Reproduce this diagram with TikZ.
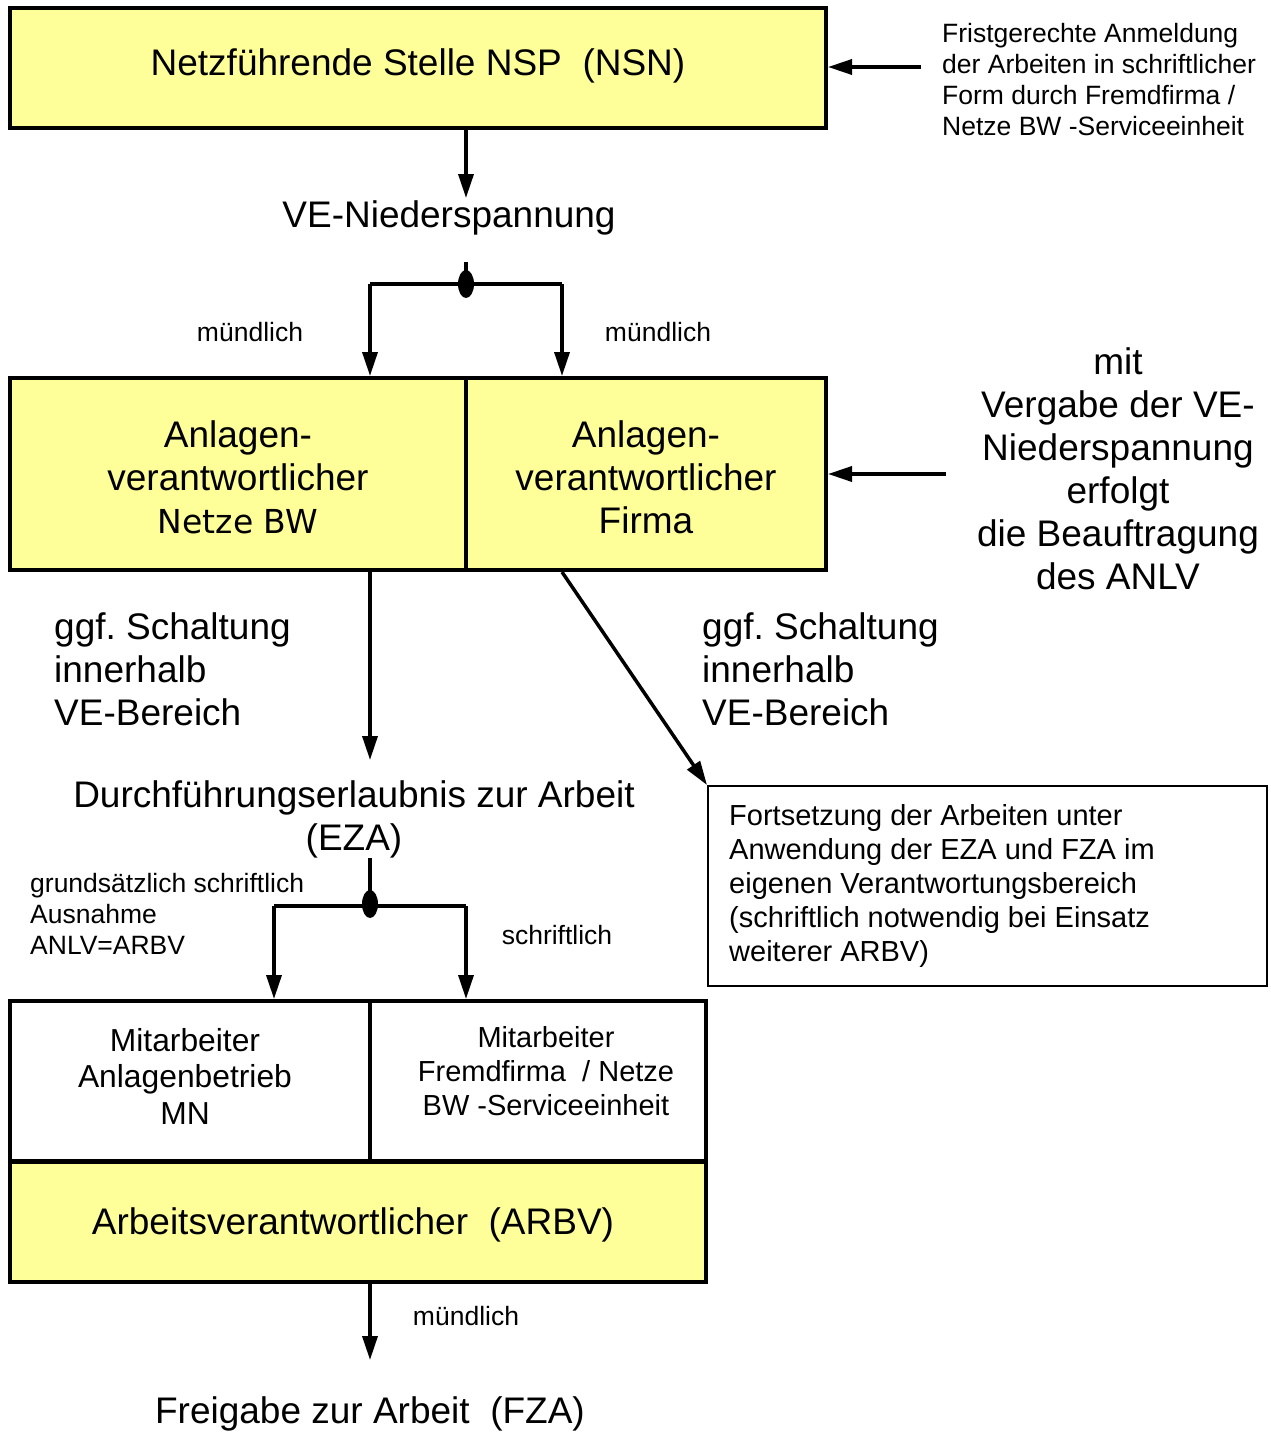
\documentclass[tikz,border=0pt]{standalone}
\usepackage{fontspec}
\setmainfont{Liberation Sans}
\newfontfamily\dejavu{DejaVu Sans}
\usetikzlibrary{arrows.meta}
\definecolor{yel}{HTML}{FFFF99}
\frenchspacing
\begin{document}
\begin{tikzpicture}[x=1pt,y=-1pt,
 ybox/.style={draw, fill=yel, line width=4pt, inner sep=0pt},
 wbox/.style={draw, fill=white, line width=4pt, inner sep=0pt},
 fbox/.style={draw, fill=white, line width=2pt, inner sep=0pt},
 conn/.style={line width=3.5pt, -{Triangle[length=24pt,width=15pt]}},
 wire/.style={line width=3.5pt},
 big/.style={font=\frenchspacing\fontsize{37}{43}\selectfont, inner sep=0pt},
 small/.style={font=\frenchspacing\fontsize{26.5}{31}\selectfont, inner sep=0pt}]
\useasboundingbox (0,0) rectangle (1271,1432);
% top box
\node[ybox, minimum width=816pt, minimum height=120pt] (nsnbox) at (418,68) {};
\node[big] (nsn) at (418,66) {Netzführende Stelle NSP\ \ (NSN)};
\node[small, align=left, anchor=west] (anm) at (942,80) {Fristgerechte Anmeldung\\der Arbeiten in schriftlicher\\Form durch Fremdfirma /\\Netze BW -Serviceeinheit};
\coordinate (anmA) at (921,67);
\draw[conn] (anmA) -- (nsnbox.east |- anmA);
% VE
\node[big] (ve) at (449,218) {VE-Niederspannung};
\coordinate (veTop) at (466,198);
\coordinate (veBot) at (466,262);
\draw[conn] (nsnbox.south -| veTop) -- (veTop);
\coordinate (j1) at (466,284);
\coordinate (jL) at (370,284);
\coordinate (jR) at (562,284);
\draw[wire] (veBot) -- (j1);
\draw[wire] (jL) -- (jR);
\fill (j1) ellipse [x radius=8, y radius=14];
% Anlagen boxes
\node[ybox, minimum width=456pt, minimum height=192pt] (anlL) at (238,474) {};
\node[ybox, minimum width=360pt, minimum height=192pt] (anlR) at (646,474) {};
\draw[conn] (jL) -- (jL |- anlL.north);
\draw[conn] (jR) -- (jR |- anlR.north);
\node[big, align=center] (anlLt) at (238,477) {Anlagen-\\verantwortlicher\\{\dejavu\fontsize{33}{43}\selectfont Netze BW}};
\node[big, align=center] (anlRt) at (646,477) {Anlagen-\\verantwortlicher\\Firma};
\node[small] (m1) at (250,332) {mündlich};
\node[small] (m2) at (658,332) {mündlich};
% right text
\node[big, align=center] (mit) at (1118,469) {mit\\Vergabe der VE-\\Niederspannung\\erfolgt\\die Beauftragung\\des ANLV};
\coordinate (mitA) at (946,474);
\draw[conn] (mitA) -- (anlR.east |- mitA);
% ggf
\node[big, align=left, anchor=west] (ggfL) at (54,669) {ggf. Schaltung\\innerhalb\\VE-Bereich};
\node[big, align=left, anchor=west] (ggfR) at (702,669) {ggf. Schaltung\\innerhalb\\VE-Bereich};
% EZA
\coordinate (ezaTop) at (370,760);
\draw[conn] (anlL.south -| ezaTop) -- (ezaTop);
\node[big, align=center] (eza) at (354,819) {Durchführungserlaubnis zur Arbeit\\(EZA)};
% Fortsetzung
\node[fbox, minimum width=559pt, minimum height=200pt] (fort) at (987.5,886) {};
\node[font=\frenchspacing\fontsize{29}{34}\selectfont, inner sep=0pt, align=left, anchor=west] (fortt) at (729,886) {Fortsetzung der Arbeiten unter\\Anwendung der EZA und FZA im\\eigenen Verantwortungsbereich\\(schriftlich notwendig bei Einsatz\\weiterer ARBV)};
\coordinate (dStart) at (562,572);
\draw[conn] (dStart) -- (fort.north west);
% junction 2
\coordinate (ezaBot) at (370,858);
\coordinate (j2) at (370,904);
\coordinate (jL2) at (274,906);
\coordinate (jR2) at (466,906);
\draw[wire] (ezaBot) -- (j2);
\draw[wire] (jL2) -- (jR2);
\fill (j2) ellipse [x radius=8, y radius=14];
\node[small, align=left, anchor=west] (grund) at (30,914) {grundsätzlich schriftlich\\Ausnahme\\ANLV=ARBV};
\node[small] (schr) at (557,935) {schriftlich};
% ARBV and Mitarbeiter
\node[ybox, minimum width=696pt, minimum height=120pt] (arbvbox) at (358,1222) {};
\node[wbox, minimum width=360pt, minimum height=160pt] (mitL) at (190,1081) {};
\node[wbox, minimum width=336pt, minimum height=160pt] (mitR) at (538,1081) {};
\draw[conn] (jL2) -- (jL2 |- mitL.north);
\draw[conn] (jR2) -- (jR2 |- mitR.north);
\node[font=\fontsize{31.8}{36.5}\selectfont, inner sep=0pt, align=center] (mitLt) at (185,1076) {Mitarbeiter\\Anlagenbetrieb\\MN};
\node[font=\fontsize{29}{34}\selectfont, inner sep=0pt, align=center] (mitRt) at (546,1071) {Mitarbeiter\\Fremdfirma\ \ / Netze\\BW -Serviceeinheit};
\node[big] (arbv) at (353,1225) {Arbeitsverantwortlicher\ \ (ARBV)};
% FZA
\coordinate (fzaTop) at (370,1360);
\draw[conn] (arbvbox.south -| fzaTop) -- (fzaTop);
\node[small] (m3) at (466,1316) {mündlich};
\node[big] (fza) at (370,1414) {Freigabe zur Arbeit\ \ (FZA)};
\end{tikzpicture}
\end{document}
